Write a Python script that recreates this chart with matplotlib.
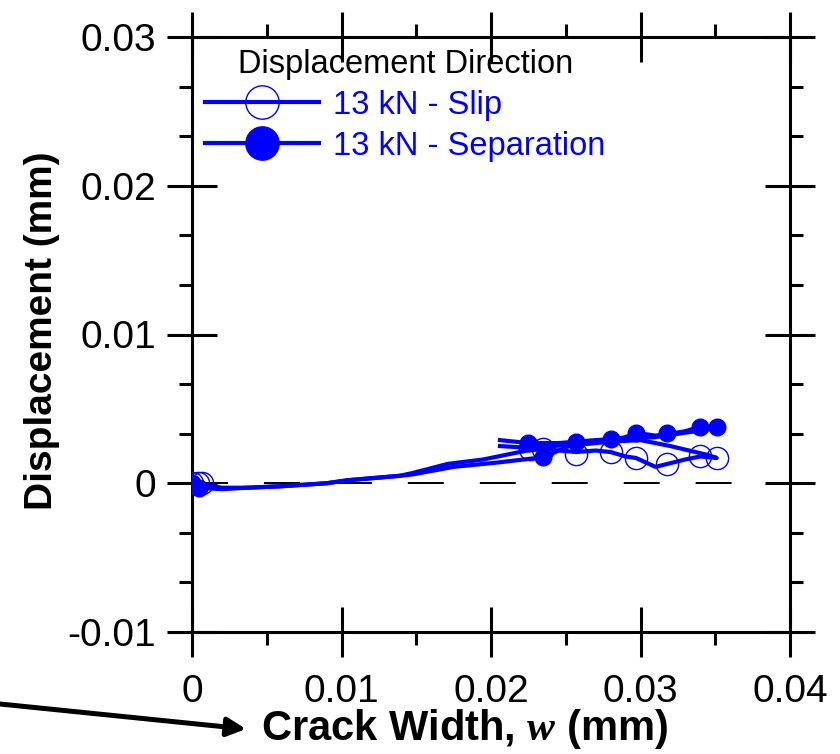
import matplotlib
matplotlib.use("Agg")
import matplotlib.pyplot as plt
from matplotlib.lines import Line2D
from matplotlib.ticker import MultipleLocator, AutoMinorLocator, FuncFormatter

plt.rcParams['font.family'] = ['Liberation Sans', 'DejaVu Sans']
plt.rcParams['axes.unicode_minus'] = False
plt.rcParams['mathtext.fontset'] = 'custom'
plt.rcParams['mathtext.bfit'] = 'Liberation Serif:bold:italic'
plt.rcParams['mathtext.it'] = 'Liberation Serif:italic'

# ---- data (mm) ----
slip_x = [0.0, 0.0004, 0.0007, 0.002, 0.0037, 0.006, 0.009, 0.0104, 0.0139, 0.0148, 0.0171,
          0.0195, 0.0224, 0.0235, 0.0257, 0.027, 0.028, 0.029, 0.0297, 0.031, 0.0318,
          0.033, 0.034, 0.0351,
          0.0345, 0.032, 0.030, 0.028, 0.026, 0.024, 0.0222, 0.0206]
slip_y = [0.0, 0.0, -0.0001, -0.0003, -0.0003, -0.0002, 0.0, 0.0002, 0.0005, 0.0007, 0.0013,
          0.0016, 0.0022, 0.0023, 0.0021, 0.0022, 0.0021, 0.0018, 0.0017, 0.0011, 0.0013,
          0.0016, 0.0018, 0.0017,
          0.0019, 0.0025, 0.0029, 0.0028, 0.0026, 0.0025, 0.0024, 0.0025]
slip_mx = [0.0, 0.0004, 0.0007, 0.0226, 0.0235, 0.0257, 0.0280, 0.0297, 0.0318, 0.0340, 0.0351]
slip_my = [0.0, 0.0, 0.0, 0.0023, 0.0023, 0.0020, 0.0021, 0.0017, 0.0013, 0.0018, 0.0017]

sep_x = [0.0, 0.0005, 0.002, 0.0037, 0.006, 0.009, 0.0104, 0.0139, 0.0148, 0.0175, 0.0205,
         0.0235, 0.025, 0.0257, 0.027, 0.028, 0.029, 0.0297, 0.031, 0.0318, 0.033, 0.034, 0.0351,
         0.0345, 0.033, 0.031, 0.029, 0.027, 0.0245, 0.0225, 0.0206]
sep_y = [0.0, -0.0003, -0.0004, -0.0003, -0.0002, 0.0, 0.0002, 0.0005, 0.0006, 0.0011, 0.0014,
         0.00175, 0.0024, 0.0027, 0.0028, 0.0029, 0.0031, 0.0034, 0.0032, 0.0033, 0.0035, 0.0038, 0.0038,
         0.0036, 0.0034, 0.0031, 0.0030, 0.0029, 0.0027, 0.0027, 0.0029]
sep_mx = [0.0, 0.0005, 0.0225, 0.0235, 0.0257, 0.0280, 0.0297, 0.0318, 0.0340, 0.0351]
sep_my = [0.0, -0.0003, 0.0027, 0.00175, 0.0028, 0.0030, 0.0034, 0.0034, 0.0038, 0.0038]

legend_title = "Displacement Direction"
labels = ["13 kN - Slip", "13 kN - Separation"]
xlim = (0.0, 0.04)
ylim = (-0.01, 0.03)

BLUE = '#0000FF'

fig = plt.figure(figsize=(8.4, 7.54), dpi=100)
ax = fig.add_axes([192/840, 1-632/754, 598/840, 595/754])

ax.plot([xlim[0], xlim[1]], [0, 0], color='black', lw=1.4, dashes=(18.5, 18.5), zorder=1)

ax.plot(slip_x, slip_y, color=BLUE, lw=3, zorder=2)
ax.plot(sep_x, sep_y, color=BLUE, lw=3, zorder=2)
ax.plot(slip_mx, slip_my, ls='none', marker='o', ms=16, mfc='none', mec=BLUE, mew=1.0, zorder=3)
ax.plot(sep_mx, sep_my, ls='none', marker='o', ms=12, mfc=BLUE, mec=BLUE, mew=1.0, zorder=3)

ax.set_xlim(*xlim)
ax.set_ylim(*ylim)
ax.xaxis.set_major_locator(MultipleLocator(0.01))
ax.xaxis.set_minor_locator(AutoMinorLocator(2))
ax.yaxis.set_major_locator(MultipleLocator(0.01))
ax.yaxis.set_minor_locator(AutoMinorLocator(3))
fmt = FuncFormatter(lambda v, p: f"{v:g}" if abs(v) > 1e-12 else "0")
ax.xaxis.set_major_formatter(fmt)
ax.yaxis.set_major_formatter(fmt)

for s in ax.spines.values():
    s.set_linewidth(2.2)
ax.tick_params(which='major', direction='inout', length=36, width=2.2, labelsize=28,
               top=True, right=True, pad=8)
ax.tick_params(which='minor', direction='out', length=9.4, width=2.2, top=True, right=True)
ax.tick_params(axis='x', which='major', pad=12)

ax.set_ylabel("Displacement (mm)", fontsize=28, fontweight='bold')
ax.yaxis.set_label_coords((60-192)/598, (632-331)/595)
ax.set_xlabel(r"Crack Width, $\mathbfit{w}$ (mm)", fontsize=30, fontweight='bold')
ax.xaxis.set_label_coords((464-192)/598, (632-707)/595)

handles = [Line2D([], [], color=BLUE, lw=3, marker='o', ms=24, mfc='none', mec=BLUE, mew=1.0),
           Line2D([], [], color=BLUE, lw=3, marker='o', ms=24, mfc=BLUE, mec=BLUE, mew=1.0)]
leg = ax.legend(handles, labels, title=legend_title, loc='upper left',
                bbox_to_anchor=(198/840, 1-42/754), bbox_transform=fig.transFigure,
                frameon=False, fontsize=23.5, title_fontsize=23.5, labelcolor=BLUE,
                handlelength=3.5, handletextpad=0.45, labelspacing=0.31,
                borderpad=0.2, borderaxespad=0.0)

ax.annotate('', xy=(246/840, 1-729/754), xycoords='figure fraction',
            xytext=(0.0, 1-704/754), textcoords='figure fraction',
            arrowprops=dict(arrowstyle='-|>', lw=3.6, color='black',
                            mutation_scale=28, shrinkA=0, shrinkB=0),
            annotation_clip=False)

fig.savefig("out.png", dpi=100)
